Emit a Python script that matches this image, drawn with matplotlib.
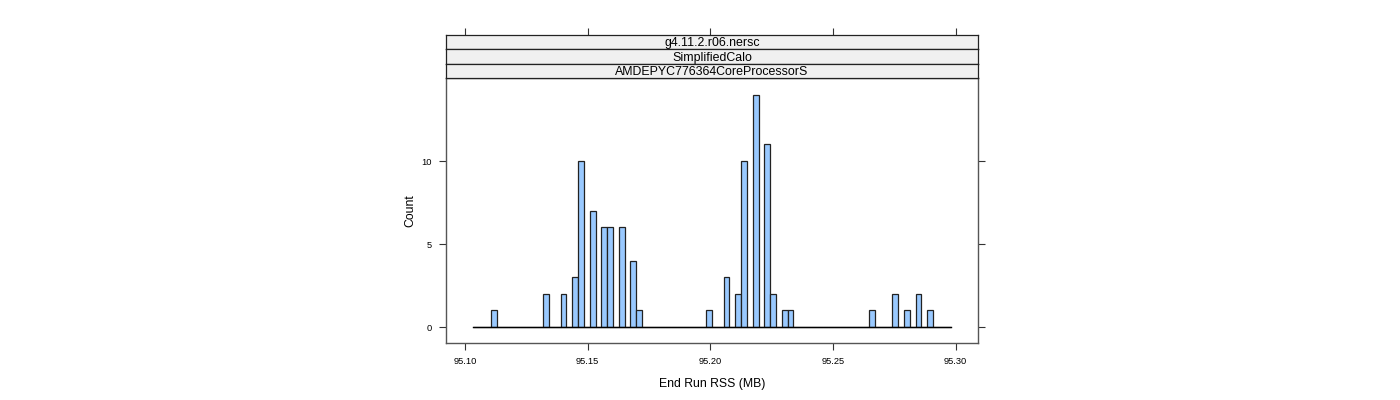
import matplotlib
matplotlib.use("Agg")
import matplotlib.pyplot as plt
import numpy as np

plt.rcParams['font.family'] = ['Liberation Sans', 'DejaVu Sans']

# histogram bins (MB)
bin_start = 95.1034
bin_width = 0.002373
# counts per bin (82 bins)
counts = [0, 0, 0, 1, 0, 0, 0, 0, 0, 0, 0, 0, 2, 0, 0, 2, 0, 3, 10, 0,
          7, 0, 6, 6, 0, 6, 0, 4, 1, 0, 0, 0, 0, 0, 0, 0, 0, 0, 0, 0,
          1, 0, 0, 3, 0, 2, 10, 0, 14, 0, 11, 2, 0, 1, 1, 0, 0, 0, 0, 0,
          0, 0, 0, 0, 0, 0, 0, 0, 1, 0, 0, 0, 2, 0, 1, 0, 2, 0, 1, 0,
          0, 0]
strip_labels = ["g4.11.2.r06.nersc", "SimplifiedCalo", "AMDEPYC776364CoreProcessorS"]
x_ticks = [95.10, 95.15, 95.20, 95.25, 95.30]
x_ticklabels = ["95.10", "95.15", "95.20", "95.25", "95.30"]
y_ticks = [0, 5, 10]
x_label = "End Run RSS (MB)"
y_label = "Count"

fig = plt.figure(figsize=(14, 4), dpi=100)
W, H = 1400, 400
L, R, B, T = 446, 978, 343, 78
ax = fig.add_axes([L / W, 1 - B / H, (R - L) / W, (B - T) / H])

edges = bin_start + bin_width * np.arange(len(counts) + 1)
ax.bar(edges[:-1], counts, width=bin_width, align='edge',
       color='#99C9FF', edgecolor='#222222', linewidth=0.9)
ax.plot([edges[0], edges[-1]], [0, 0], color='black', lw=1.0)

ax.set_xlim(95.09225, 95.30917)
ax.set_ylim(-0.96, 15.0)
ax.set_xticks(x_ticks)
ax.set_xticklabels(x_ticklabels)
ax.set_yticks(y_ticks)
ax.tick_params(axis='both', labelsize=6.7, length=5, width=0.8, color='#333333',
               direction='out', pad=5)
ax.tick_params(axis='y', right=True, labelright=False)
for s in ax.spines.values():
    s.set_color('#555555')
    s.set_linewidth(1.0)
ax.set_xlabel(x_label, fontsize=8.8, labelpad=9)
ax.set_ylabel(y_label, fontsize=8.8, labelpad=4)

# strips
strip_h = (T - 35) / 3.0
for i, lab in enumerate(strip_labels):
    top = 35 + i * strip_h
    sax = fig.add_axes([L / W, 1 - (top + strip_h) / H, (R - L) / W, strip_h / H])
    sax.set_facecolor('#F0F0F0')
    sax.set_xlim(ax.get_xlim())
    sax.set_ylim(0, 1)
    sax.set_yticks([])
    for s in sax.spines.values():
        s.set_color('#222222')
        s.set_linewidth(0.9)
    sax.text(0.5, 0.42, lab, transform=sax.transAxes, ha='center', va='center',
             fontsize=8.9)
    if i == 0:
        sax.set_xticks(x_ticks)
        sax.tick_params(axis='x', top=True, bottom=False, labeltop=False,
                        labelbottom=False, length=5, width=0.8, color='#333333')
    else:
        sax.set_xticks([])

fig.savefig('out.png', dpi=100)
